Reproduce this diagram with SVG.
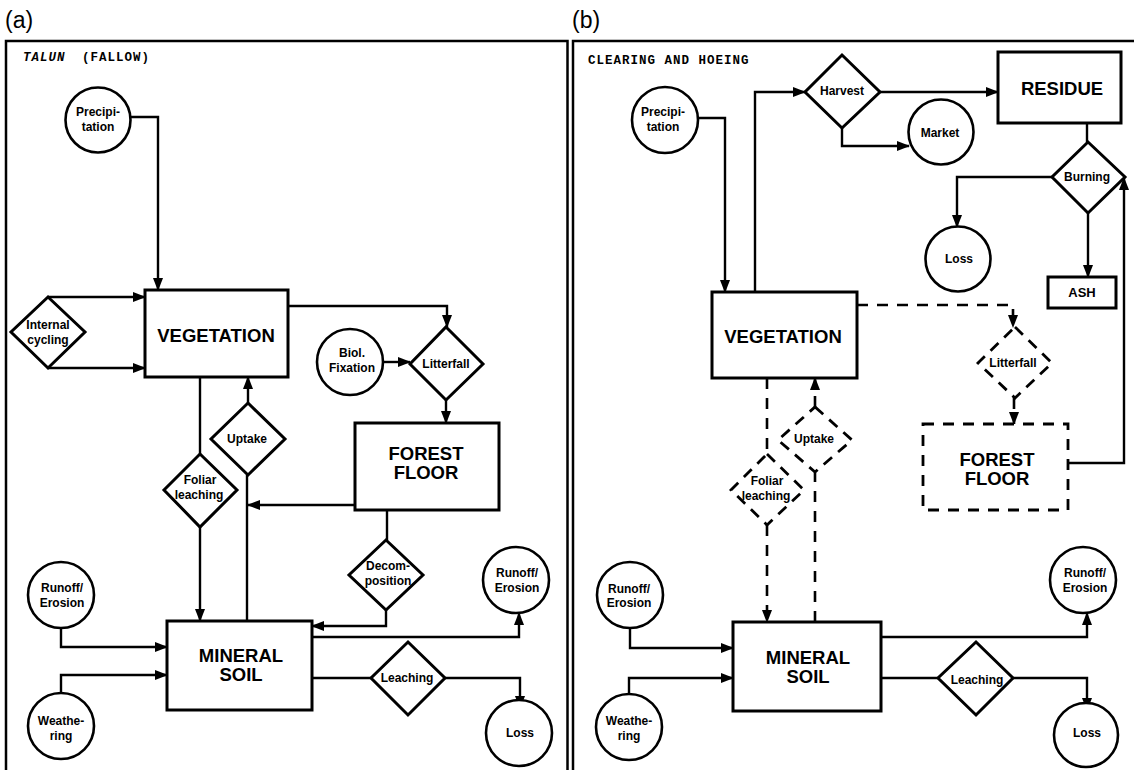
<svg xmlns="http://www.w3.org/2000/svg" width="1134" height="770" viewBox="0 0 1134 770">
<defs>
<marker id="ah" markerUnits="userSpaceOnUse" markerWidth="13" markerHeight="10" refX="12" refY="5" orient="auto">
<path d="M0,0 L13,5 L0,10 z" fill="#000"/>
</marker>
<style>
.frame{fill:none;stroke:#000;stroke-width:2.5}
.box{fill:#fff;stroke:#000;stroke-width:3}
.dbox{fill:#fff;stroke:#000;stroke-width:2.8;stroke-dasharray:11 9}
.dia{fill:#fff;stroke:#000;stroke-width:3}
.ddia{fill:#fff;stroke:#000;stroke-width:2.8;stroke-dasharray:11 8}
.cir{fill:#fff;stroke:#000;stroke-width:2.6}
.ln{fill:none;stroke:#000;stroke-width:2.4}
.arr{fill:none;stroke:#000;stroke-width:2.4;marker-end:url(#ah)}
.dln{fill:none;stroke:#000;stroke-width:2.6;stroke-dasharray:11 9}
.darr{fill:none;stroke:#000;stroke-width:2.6;stroke-dasharray:11 9;marker-end:url(#ah)}
.big{font-family:"Liberation Sans",Arial,sans-serif;font-weight:bold;font-size:18.5px;text-anchor:middle}
.sm{font-family:"Liberation Sans",Arial,sans-serif;font-weight:bold;font-size:12px;text-anchor:middle}
.ash{font-family:"Liberation Sans",Arial,sans-serif;font-weight:bold;font-size:13px;text-anchor:middle}
.pl{font-family:"Liberation Sans",Arial,sans-serif;font-size:23px}
.ttl{font-family:"Liberation Mono","Courier New",monospace;font-weight:bold;font-size:12.5px;letter-spacing:1px}
</style>
</defs>
<rect width="1134" height="770" fill="#fff"/>

<g id="frames">
<text class="pl" x="5" y="28">(a)</text>
<text class="pl" x="572" y="28">(b)</text>
<path class="frame" d="M6,770 V41 H567.5 V770"/>
<path class="frame" d="M573,770 V41 H1134"/>
<text class="ttl" x="23" y="61"><tspan font-style="italic">TALUN</tspan><tspan x="82">(FALLOW)</tspan></text>
<text class="ttl" x="588" y="64">CLEARING AND HOEING</text>
</g>

<g id="connectors">
<!-- panel a -->
<path class="arr" d="M131,117 H158 V290"/>
<path class="arr" d="M48,297 H145"/>
<path class="arr" d="M48,368 H145"/>
<path class="arr" d="M288,306 H447 V327"/>
<path class="arr" d="M384,362 H410"/>
<path class="arr" d="M446,400 V423"/>
<path class="arr" d="M355,505 H248"/>
<path class="ln" d="M247,621 V475"/>
<path class="arr" d="M248,403 V377"/>
<path class="ln" d="M200,377 V454"/>
<path class="arr" d="M200,527 V621"/>
<path class="ln" d="M387,510 V540"/>
<path class="arr" d="M386,610 V626 H312"/>
<path class="arr" d="M312,637 H519 V613"/>
<path class="ln" d="M312,678 H371"/>
<path class="arr" d="M445,678 H520 V708"/>
<path class="arr" d="M61,628 V647 H167"/>
<path class="arr" d="M61,693 V675 H167"/>
<!-- panel b -->
<path class="arr" d="M698,118 H725 V292"/>
<path class="arr" d="M755,292 V92 H805"/>
<path class="arr" d="M880,92 H998"/>
<path class="arr" d="M842,128 V146 H909"/>
<path class="ln" d="M1087,123 V142"/>
<path class="arr" d="M1052,177 H957 V227"/>
<path class="arr" d="M1088,213 V277"/>
<path class="arr" d="M1068,463 H1124 V178"/>
<path class="darr" d="M857,305 H1013 V327"/>
<path class="darr" d="M1014,398 V424"/>
<path class="darr" d="M815,407 V378"/>
<path class="dln" d="M815,622 V472"/>
<path class="dln" d="M767,378 V454"/>
<path class="darr" d="M767,525 V622"/>
<path class="arr" d="M881,637 H1087 V613"/>
<path class="ln" d="M881,678 H938"/>
<path class="arr" d="M1013,678 H1087 V710"/>
<path class="arr" d="M630,628 V648 H733"/>
<path class="arr" d="M629,695 V678 H733"/>
</g>

<!-- panel a nodes -->
<g id="a-precipitation"><circle class="cir" cx="98" cy="120" r="32.5"/><text class="sm" x="98" y="116">Precipi-</text><text class="sm" x="98" y="131">tation</text></g>
<g id="a-internal-cycling"><polygon class="dia" points="48,297 85,332 48,368 11,332"/><text class="sm" x="48" y="329">Internal</text><text class="sm" x="48" y="344">cycling</text></g>
<g id="a-vegetation"><rect class="box" x="145" y="290" width="143" height="87"/><text class="big" x="216" y="342">VEGETATION</text></g>
<g id="a-biol-fixation"><circle class="cir" cx="350" cy="362" r="33"/><text class="sm" x="352" y="357">Biol.</text><text class="sm" x="352" y="372">Fixation</text></g>
<g id="a-litterfall"><polygon class="dia" points="446,327 483,364 446,400 410,364"/><text class="sm" x="446" y="368">Litterfall</text></g>
<g id="a-forest-floor"><rect class="box" x="355" y="423" width="144" height="87"/><text class="big" x="426" y="460">FOREST</text><text class="big" x="426" y="479">FLOOR</text></g>
<g id="a-uptake"><polygon class="dia" points="248,403 285,439 248,475 211,439"/><text class="sm" x="247" y="443">Uptake</text></g>
<g id="a-foliar-leaching"><polygon class="dia" points="200,454 237,490 200,527 164,490"/><text class="sm" x="200" y="484">Foliar</text><text class="sm" x="199" y="499">leaching</text></g>
<g id="a-decomposition"><polygon class="dia" points="386,540 423,575 386,610 349,575"/><text class="sm" x="388" y="570">Decom-</text><text class="sm" x="388" y="585">position</text></g>
<g id="a-mineral-soil"><rect class="box" x="167" y="621" width="145" height="89"/><text class="big" x="241" y="662">MINERAL</text><text class="big" x="241" y="681">SOIL</text></g>
<g id="a-runoff-left"><circle class="cir" cx="61" cy="595" r="33"/><text class="sm" x="62" y="592">Runoff/</text><text class="sm" x="62" y="607">Erosion</text></g>
<g id="a-weathering"><circle class="cir" cx="61" cy="726" r="33"/><text class="sm" x="61" y="725">Weathe-</text><text class="sm" x="61" y="740">ring</text></g>
<g id="a-runoff-right"><circle class="cir" cx="516" cy="580" r="33"/><text class="sm" x="517" y="577">Runoff/</text><text class="sm" x="517" y="592">Erosion</text></g>
<g id="a-leaching"><polygon class="dia" points="408,642 445,678 408,715 371,678"/><text class="sm" x="407" y="682">Leaching</text></g>
<g id="a-loss"><circle class="cir" cx="519" cy="733" r="33"/><text class="sm" x="520" y="737">Loss</text></g>

<!-- panel b nodes -->
<g id="b-precipitation"><circle class="cir" cx="665" cy="120" r="33"/><text class="sm" x="663" y="116">Precipi-</text><text class="sm" x="663" y="131">tation</text></g>
<g id="b-harvest"><polygon class="dia" points="842,55 880,92 842,128 805,92"/><text class="sm" x="842" y="95">Harvest</text></g>
<g id="b-residue"><rect class="box" x="998" y="52" width="123" height="71"/><text class="big" x="1062" y="95">RESIDUE</text></g>
<g id="b-market"><circle class="cir" cx="941" cy="132" r="32.5"/><text class="sm" x="940" y="137">Market</text></g>
<g id="b-burning"><polygon class="dia" points="1088,142 1125,177 1088,213 1052,177"/><text class="sm" x="1087" y="181">Burning</text></g>
<g id="b-loss-top"><circle class="cir" cx="958" cy="259" r="32.5"/><text class="sm" x="959" y="263">Loss</text></g>
<g id="b-ash"><rect class="box" x="1048" y="277" width="68" height="31"/><text class="ash" x="1082" y="297">ASH</text></g>
<g id="b-vegetation"><rect class="box" x="712" y="292" width="145" height="86"/><text class="big" x="783" y="343">VEGETATION</text></g>
<g id="b-litterfall"><polygon class="ddia" points="1015,327 1052,363 1015,398 978,363"/><text class="sm" x="1013" y="367">Litterfall</text></g>
<g id="b-forest-floor"><rect class="dbox" x="923" y="424" width="145" height="86"/><text class="big" x="997" y="466">FOREST</text><text class="big" x="997" y="485">FLOOR</text></g>
<g id="b-uptake"><polygon class="ddia" points="815,407 852,440 815,472 778,440"/><text class="sm" x="814" y="443">Uptake</text></g>
<g id="b-foliar-leaching"><polygon class="ddia" points="767,454 804,490 767,525 731,490"/><text class="sm" x="767" y="485">Foliar</text><text class="sm" x="766" y="500">leaching</text></g>
<g id="b-mineral-soil"><rect class="box" x="733" y="622" width="148" height="89"/><text class="big" x="808" y="664">MINERAL</text><text class="big" x="808" y="683">SOIL</text></g>
<g id="b-runoff-left"><circle class="cir" cx="630" cy="595" r="33"/><text class="sm" x="629" y="593">Runoff/</text><text class="sm" x="629" y="607">Erosion</text></g>
<g id="b-weathering"><circle class="cir" cx="629" cy="727" r="33"/><text class="sm" x="629" y="725">Weathe-</text><text class="sm" x="629" y="740">ring</text></g>
<g id="b-runoff-right"><circle class="cir" cx="1083" cy="580" r="33"/><text class="sm" x="1085" y="577">Runoff/</text><text class="sm" x="1085" y="592">Erosion</text></g>
<g id="b-leaching"><polygon class="dia" points="976,642 1013,678 976,715 938,678"/><text class="sm" x="977" y="684">Leaching</text></g>
<g id="b-loss-bottom"><circle class="cir" cx="1086" cy="735" r="32"/><text class="sm" x="1087" y="737">Loss</text></g>
</svg>
